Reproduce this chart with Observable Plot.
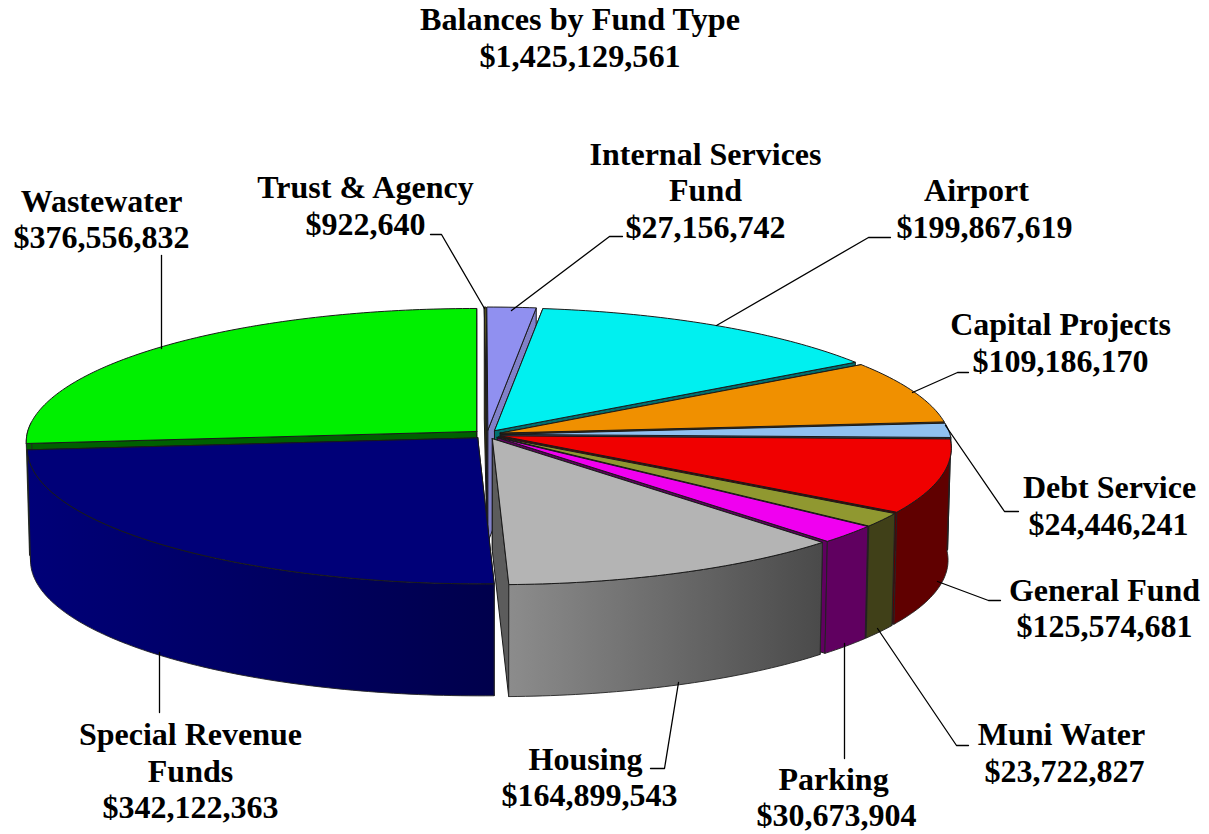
<!DOCTYPE html>
<html><head><meta charset="utf-8">
<script src="https://cdn.jsdelivr.net/npm/d3@7"></script>
<script src="https://cdn.jsdelivr.net/npm/@observablehq/plot@0.6"></script>
<style>
html,body{margin:0;padding:0;background:#fff;overflow:hidden}
#title{width:1160px;height:80px;box-sizing:border-box;padding-top:1px;text-align:center;font:bold 32.2px/37px "Liberation Serif",serif;color:#000}
svg{display:block}
</style></head><body>
<div id="title"><div id="t1"></div><div id="t2"></div></div>
<div id="chart"></div>
<script>
const chartTitle = "Balances by Fund Type";
const chartTotal = 1425129561;
const categories = ["Trust & Agency","Internal Services Fund","Airport","Capital Projects","Debt Service","General Fund","Muni Water","Parking","Housing","Special Revenue Funds","Wastewater"];
const values = [922640,27156742,199867619,109186170,24446241,125574681,23722827,30673904,164899543,342122363,376556832];
const topColors = ["#8a8420","#9090f0","#00f0f0","#f09000","#90c0f0","#f00000","#909830","#f000f0","#b4b4b4","#000078","#00f000"];
const sideLeft  = ["#403c10","#7878c0","#007878","#784800","#4870a0","#600000","#404018","#600060","#8c8c8c","#000078","#006000"];
const sideRight = ["#403c10","#7878c0","#007878","#784800","#4870a0","#600000","#404018","#600060","#4a4a4a","#00004c","#006000"];
const wallColors= ["#403c10","#8080c8","#007070","#784800","#4870a0","#600000","#404018","#600060","#5c5c5c","#000050","#006000"];
const paintOrder = [10,0,1,2,3,4,5,6,7,8,9];

const fmt = d3.format("$,");
const labelRows = [
 ["Wastewater",101,211],[fmt(values[10]),101,247],
 ["Trust & Agency",365,197],[fmt(values[0]),365,234],
 ["Internal Services",705,164],["Fund",705,200],[fmt(values[1]),705,237],
 ["Airport",976,200],[fmt(values[2]),984,237],
 ["Capital Projects",1060,334],[fmt(values[3]),1060,371],
 ["Debt Service",1109,497],[fmt(values[4]),1108,534],
 ["General Fund",1104,600],[fmt(values[5]),1104,636],
 ["Muni Water",1061,744],[fmt(values[6]),1064,781],
 ["Parking",833,789],[fmt(values[7]),836,825],
 ["Housing",585,769],[fmt(values[8]),589,805],
 ["Special Revenue",190,744],["Funds",190,781],[fmt(values[9]),190,817]
].map(([text,x,y])=>({text,x,y}));
const leaders = [
 [[161,255],[161,348]],
 [[159,652],[159,712]],
 [[430,234],[441,234],[484,308]],
 [[622,236],[609,236],[511,310]],
 [[890,237],[868,237],[716,325]],
 [[968,372],[957,372],[912,392]],
 [[945,425],[1004,511],[1018,511]],
 [[937,581],[988,600],[1000,600]],
 [[877,628],[956,745],[968,745]],
 [[844,643],[844,758]],
 [[678,682],[664,768],[650,768]]
];

d3.select("#t1").text(chartTitle);
d3.select("#t2").text(fmt(chartTotal));

// pie geometry
const cx=486.5, cy=434, Rx=449, Ry=133.5, k=0.0855, depth=112, ex=14, ey=4.5, shrink=0.993, shear=3;
const total=d3.sum(values);
let acc=0;
const slices=values.map((v,i)=>{
  const a0=acc/total*2*Math.PI; acc+=v; const a1=acc/total*2*Math.PI; const m=(a0+a1)/2;
  return {i,a0,a1,ax:cx+ex*Math.sin(m),ay:cy-ey*Math.cos(m)};
});
const rim=(s,a)=>{
  const f=1/(1+k*Math.cos(a));
  const sh=(Math.sin(a)<0&&Math.cos(a)>0)?0:shear;
  return [s.ax+(Rx*Math.sin(a)-sh*Math.cos(a))*f, s.ay-Ry*Math.cos(a)*f];
};
const low=([x,y],d=depth)=>[cx+(x-cx)*shrink,y+d];
const arc=(s)=>{const n=Math.max(2,Math.ceil((s.a1-s.a0)/(Math.PI/180)));return d3.range(n+1).map(j=>s.a0+(s.a1-s.a0)*j/n);};

let uid=0;
const poly=(pts,fill)=>{const id=uid++;return [...pts,pts[0]].map(([x,y])=>({id,x,y,fill}));};
const polys=(list,opts)=>Plot.line(list.flat(),{x:"x",y:"y",z:"id",fill:"fill",strokeLinejoin:"round",...opts});

// gradients for the outer wall of each slice, left to right
const gradients=(index,scales,values_,dimensions,context)=>{
  const doc=context.document, ns="http://www.w3.org/2000/svg";
  const defs=doc.createElementNS(ns,"defs");
  slices.forEach(s=>{
    const g=doc.createElementNS(ns,"linearGradient");
    g.setAttribute("id","side"+s.i);
    [[0,sideLeft[s.i]],[1,sideRight[s.i]]].forEach(([o,c])=>{
      const st=doc.createElementNS(ns,"stop");
      st.setAttribute("offset",o); st.setAttribute("stop-color",c); g.append(st);
    });
    defs.append(g);
  });
  return defs;
};

const marks=[gradients];
for(const idx of paintOrder){
  const s=slices[idx], A=[s.ax,s.ay], as=arc(s);
  // the backmost slice only shows a thin band of its cut wall above the slice in front of it
  const d=idx===paintOrder[0]?14:depth;
  const walls=[s.a0,s.a1].map(a=>{const r=rim(s,a);return poly([A,r,low(r,d),low(A,d)],wallColors[idx]);});
  marks.push(polys(walls,{stroke:"#1a1a1a",strokeWidth:1}));
  const front=as.filter(a=>Math.cos(a)<0.08).map(a=>rim(s,a));
  if(front.length>1){
    const rows=poly([...front,...front.slice().reverse().map(p=>low(p))],"none");
    marks.push(Plot.line(rows,{x:"x",y:"y",z:"id",fill:`url(#side${idx})`,stroke:"#222",strokeWidth:0.9,strokeLinejoin:"round"}));
  }
  marks.push(polys([poly([A,...as.map(a=>rim(s,a))],topColors[idx])],{stroke:"#1a1a1a",strokeWidth:1}));
}
const leaderRows=leaders.flatMap((l,id)=>l.map(([x,y])=>({id,x,y})));
marks.push(Plot.line(leaderRows,{x:"x",y:"y",z:"id",stroke:"#000",strokeWidth:1.3}));
marks.push(Plot.text(labelRows,{x:"x",y:"y",text:"text",textAnchor:"middle",lineAnchor:"bottom",fontSize:32,fontWeight:"bold",fontFamily:"Liberation Serif",fill:"black"}));

document.getElementById("chart").append(Plot.plot({
  width:1209,height:754,margin:0,
  x:{domain:[0,1209],range:[0,1209],axis:null},
  y:{domain:[80,834],range:[0,754],axis:null},
  color:{type:"identity"},
  style:{background:"#fff"},
  marks
}));
</script></body></html>
